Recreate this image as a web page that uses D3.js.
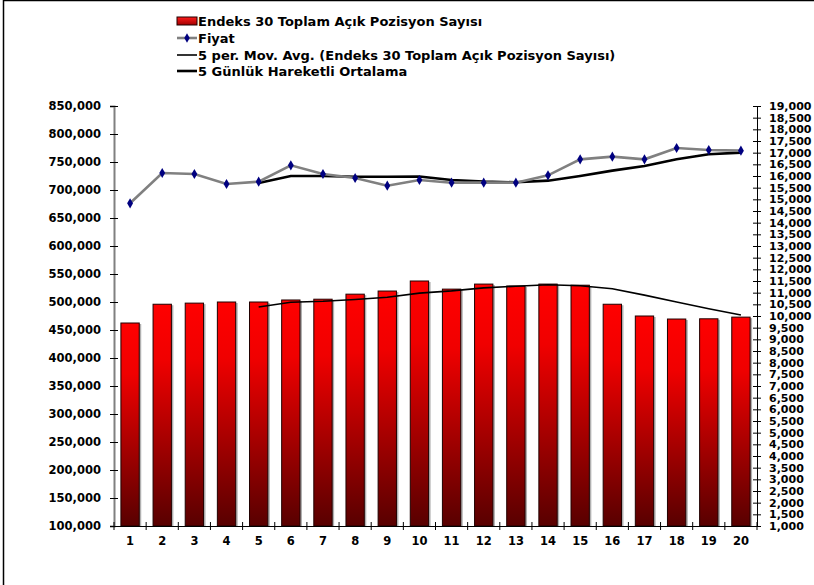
<!DOCTYPE html>
<html>
<head>
<meta charset="utf-8">
<script src="https://d3js.org/d3.v7.min.js"></script>
<style>
  body { margin: 0; background: #fff; }
  text { font-family: "DejaVu Sans", Verdana, sans-serif; font-weight: bold; fill: #000; }
</style>
</head>
<body>
<script>
// day numbers on the x axis
var days = d3.range(1, 21).map(String);

// Endeks 30 Toplam Açık Pozisyon Sayısı (left axis)
var openInterest = [462500, 496000, 498000, 500000, 500000, 503600, 505000, 514000, 519600, 537500,
                    523000, 532000, 528600, 532000, 530000, 496000, 475000, 469600, 470000, 473000];

// 5 per. Mov. Avg. of the bars, starting at day 5
var oiAvg = [null, null, null, null, 491000, 499500, 501300, 504500, 508400, 515800,
             519800, 525200, 528100, 530800, 529100, 523700, 512300, 500100, 488100, 476700];

// Fiyat (right axis)
var price = [14830, 16129, 16086, 15657, 15757, 16457, 16086, 15914, 15586, 15829,
             15714, 15714, 15714, 16029, 16714, 16829, 16714, 17200, 17114, 17086];

// 5 Günlük Hareketli Ortalama (right axis)
var priceAvg = [null, null, null, null, 15700, 16000, 16000, 15971, 15971, 15980,
                15829, 15757, 15729, 15800, 16000, 16229, 16429, 16714, 16929, 17000];

var leftTicks = d3.range(100000, 850001, 50000);
var rightTicks = d3.range(1000, 19001, 500);

var legendItems = [
  "Endeks 30 Toplam Açık Pozisyon Sayısı",
  "Fiyat",
  "5 per. Mov. Avg. (Endeks 30 Toplam Açık Pozisyon Sayısı)",
  "5 Günlük Hareketli Ortalama"
];

var width = 814, height = 585;
var plot = { left: 114, right: 757, top: 106, bottom: 526 };

var svg = d3.select("body").append("svg")
    .attr("width", width)
    .attr("height", height);

var defs = svg.append("defs");
var grad = defs.append("linearGradient")
    .attr("id", "barGrad")
    .attr("x1", 0).attr("y1", 0).attr("x2", 0).attr("y2", 1);
grad.append("stop").attr("offset", "0%").attr("stop-color", "#ff0000");
grad.append("stop").attr("offset", "25%").attr("stop-color", "#f00000");
grad.append("stop").attr("offset", "100%").attr("stop-color", "#580000");

var legGrad = defs.append("linearGradient")
    .attr("id", "legGrad")
    .attr("x1", 0).attr("y1", 0).attr("x2", 0).attr("y2", 1);
legGrad.append("stop").attr("offset", "0%").attr("stop-color", "#ff1a1a");
legGrad.append("stop").attr("offset", "100%").attr("stop-color", "#a00000");

// outer frame (only top and left edges are visible in the window)
svg.append("rect")
    .attr("x", 3.5).attr("y", 0.5)
    .attr("width", 830).attr("height", 600)
    .attr("fill", "none")
    .attr("stroke", "#000")
    .attr("stroke-width", 1.5);

var x = d3.scaleBand()
    .domain(days)
    .range([plot.left, plot.right])
    .paddingInner(0.43)
    .paddingOuter(0.215);

var yL = d3.scaleLinear().domain([100000, 850000]).range([plot.bottom, plot.top]);
var yR = d3.scaleLinear().domain([1000, 19000]).range([plot.bottom, plot.top]);

var cx = function (d, i) { return x(days[i]) + x.bandwidth() / 2; };

// bars with a small grey shadow
var bars = svg.append("g");
bars.selectAll(".shadow")
    .data(openInterest)
  .enter().append("rect")
    .attr("class", "shadow")
    .attr("x", function (d, i) { return x(days[i]) + 2; })
    .attr("y", function (d) { return yL(d) + 1; })
    .attr("width", x.bandwidth())
    .attr("height", function (d) { return plot.bottom - yL(d) - 1; })
    .attr("fill", "#b0b0b0");

bars.selectAll(".bar")
    .data(openInterest)
  .enter().append("rect")
    .attr("class", "bar")
    .attr("x", function (d, i) { return x(days[i]); })
    .attr("y", function (d) { return yL(d); })
    .attr("width", x.bandwidth())
    .attr("height", function (d) { return plot.bottom - yL(d); })
    .attr("fill", "url(#barGrad)")
    .attr("stroke", "#200000")
    .attr("stroke-width", 1);

// left axis
var axL = svg.append("g")
    .attr("transform", "translate(" + plot.left + ",0)")
    .call(d3.axisLeft(yL).tickValues(leftTicks).tickSize(4).tickPadding(9).tickFormat(d3.format(",")));
axL.select(".domain").attr("stroke", "#808080").attr("stroke-width", 2);
axL.selectAll(".tick line").attr("stroke", "#000").attr("x2", 4).attr("x1", -4);
axL.selectAll("text").style("font-size", "11.5px").style("font-family", "DejaVu Sans").style("font-weight", "bold");

// right axis (labels are packed as tightly as in the original)
var axR = svg.append("g")
    .attr("transform", "translate(" + plot.right + ",0)")
    .call(d3.axisRight(yR).tickValues(rightTicks).tickSize(4).tickPadding(8).tickFormat(d3.format(",")));
axR.select(".domain").attr("stroke", "#000").attr("stroke-width", 1);
axR.selectAll(".tick line").attr("stroke", "#000").attr("x1", -4).attr("x2", 4);
axR.selectAll("text").style("font-size", "11px").style("font-family", "DejaVu Sans").style("font-weight", "bold");

// bottom axis
var axB = svg.append("g")
    .attr("transform", "translate(0," + plot.bottom + ")")
    .call(d3.axisBottom(x).tickSize(0).tickPadding(11));
axB.select(".domain").attr("stroke", "#000").attr("stroke-width", 1);
axB.selectAll("text").style("font-size", "11.5px").style("font-family", "DejaVu Sans").style("font-weight", "bold");
axB.selectAll(".sep")
    .data(d3.range(0, days.length + 1))
  .enter().append("line")
    .attr("class", "sep")
    .attr("x1", function (i) { return plot.left + i * x.step(); })
    .attr("x2", function (i) { return plot.left + i * x.step(); })
    .attr("y1", -4)
    .attr("y2", 4)
    .attr("stroke", "#000");

// moving average of the bars
var lineL = d3.line()
    .defined(function (d) { return d !== null; })
    .x(cx)
    .y(function (d) { return yL(d); });

svg.append("path")
    .datum(oiAvg)
    .attr("d", lineL)
    .attr("fill", "none")
    .attr("stroke", "#000")
    .attr("stroke-width", 1.6);

var lineR = d3.line()
    .defined(function (d) { return d !== null; })
    .x(cx)
    .y(function (d) { return yR(d); });

// price moving average
svg.append("path")
    .datum(priceAvg)
    .attr("d", lineR)
    .attr("fill", "none")
    .attr("stroke", "#000")
    .attr("stroke-width", 2.6);

// price line with diamonds
svg.append("path")
    .datum(price)
    .attr("d", lineR)
    .attr("fill", "none")
    .attr("stroke", "#808080")
    .attr("stroke-width", 2.6);

svg.selectAll(".dia")
    .data(price)
  .enter().append("path")
    .attr("class", "dia")
    .attr("transform", function (d, i) { return "translate(" + cx(d, i) + "," + yR(d) + ")"; })
    .attr("d", d3.symbol(d3.symbolDiamond, 30))
    .attr("fill", "#000080");

// legend
var legend = svg.append("g").attr("transform", "translate(177,0)");
var rowY = [21, 38, 55, 71];
var leg = legend.selectAll(".item")
    .data(legendItems)
  .enter().append("g")
    .attr("class", "item")
    .attr("transform", function (d, i) { return "translate(0," + rowY[i] + ")"; });

leg.append("text")
    .attr("x", 21)
    .attr("dy", "0.35em")
    .style("font-size", "13px")
    .text(function (d) { return d; });

legend.append("rect")
    .attr("x", 0).attr("y", rowY[0] - 4)
    .attr("width", 20).attr("height", 8)
    .attr("fill", "url(#legGrad)")
    .attr("stroke", "#200000");

legend.append("line")
    .attr("x1", 0).attr("x2", 20)
    .attr("y1", rowY[1]).attr("y2", rowY[1])
    .attr("stroke", "#808080").attr("stroke-width", 2.6);
legend.append("path")
    .attr("transform", "translate(10," + rowY[1] + ")")
    .attr("d", d3.symbol(d3.symbolDiamond, 26))
    .attr("fill", "#000080");

legend.append("line")
    .attr("x1", 0).attr("x2", 20)
    .attr("y1", rowY[2]).attr("y2", rowY[2])
    .attr("stroke", "#000").attr("stroke-width", 1.6);

legend.append("line")
    .attr("x1", 0).attr("x2", 20)
    .attr("y1", rowY[3]).attr("y2", rowY[3])
    .attr("stroke", "#000").attr("stroke-width", 2.6);
</script>
</body>
</html>
